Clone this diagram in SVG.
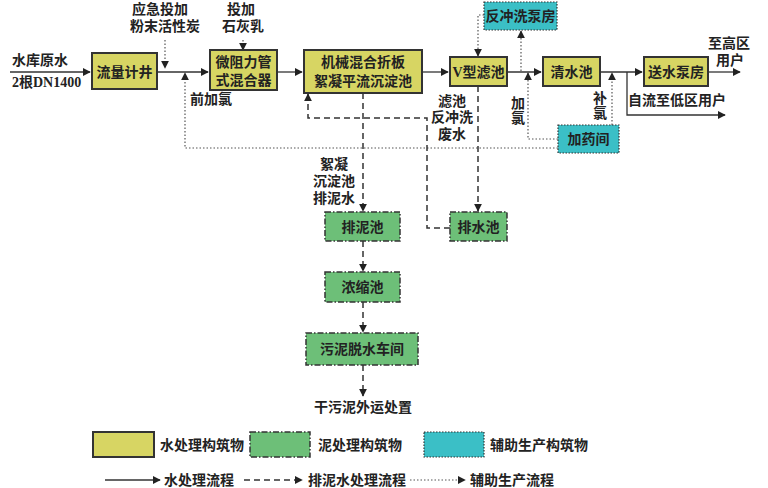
<svg xmlns="http://www.w3.org/2000/svg" width="768" height="488" viewBox="0 0 768 488">
<style>
text{font-family:"Liberation Serif","Noto Sans CJK SC",serif;font-size:14px;fill:#222}
.w{fill:#d7d563;stroke:#333;stroke-width:2}
.s{fill:#6dbf78;stroke:#333;stroke-width:1.5;stroke-dasharray:6 2 1.5 2}
.a{fill:#3bbfc6;stroke:#333;stroke-width:1.2;stroke-dasharray:1.5 1.5}
.l{fill:none;stroke:#333;stroke-width:1.3}
.d{fill:none;stroke:#333;stroke-width:1.5;stroke-dasharray:6 4}
.o{fill:none;stroke:#555;stroke-width:1.2;stroke-dasharray:1.5 2}
.c{text-anchor:middle}
</style>
<defs><marker id="m" viewBox="0 0 10 10" refX="9" refY="5" markerWidth="8" markerHeight="8" orient="auto" markerUnits="userSpaceOnUse"><path d="M0,0L10,5L0,10z" fill="#222"/></marker></defs>
<rect width="768" height="488" fill="#fff"/>
<g id="connectors">
<path class="l" d="M10,72H90" marker-end="url(#m)"/>
<path class="l" d="M157,72H208" marker-end="url(#m)"/>
<path class="l" d="M277,72H302" marker-end="url(#m)"/>
<path class="l" d="M422,72H448" marker-end="url(#m)"/>
<path class="l" d="M507,72H541" marker-end="url(#m)"/>
<path class="l" d="M600,72H642" marker-end="url(#m)"/>
<path class="l" d="M708,72H740" marker-end="url(#m)"/>
<path class="l" d="M627,72V115H725" marker-end="url(#m)"/>
<path class="o" d="M165,40V68" marker-end="url(#m)"/>
<path class="o" d="M243,40V50" marker-end="url(#m)"/>
<path class="o" d="M558,148H185V73" marker-end="url(#m)"/>
<path class="o" d="M484,15H478V56" marker-end="url(#m)"/>
<path class="o" d="M521,71V31" marker-end="url(#m)"/>
<path class="o" d="M558,139H528V73" marker-end="url(#m)"/>
<path class="o" d="M612,125V73" marker-end="url(#m)"/>
<path class="d" d="M450,228H427V118H308V94" marker-end="url(#m)"/>
<path class="d" d="M363,93V211" marker-end="url(#m)"/>
<path class="d" d="M478,86V211" marker-end="url(#m)"/>
<path class="d" d="M363,241V271" marker-end="url(#m)"/>
<path class="d" d="M363,302V332" marker-end="url(#m)"/>
<path class="d" d="M363,365V396" marker-end="url(#m)"/>
</g>
<g id="n1"><rect class="w" x="92" y="53" width="65" height="36"/><text class="c" x="124.5" y="77" font-weight="bold">流量计井</text></g>
<g id="n2"><rect class="w" x="210" y="50" width="67" height="40"/><text class="c" x="243.5" y="67" font-weight="bold">微阻力管</text><text class="c" x="243.5" y="85" font-weight="bold">式混合器</text></g>
<g id="n3"><rect class="w" x="304" y="50" width="118" height="43"/><text class="c" x="363" y="67" font-weight="bold">机械混合折板</text><text class="c" x="363" y="86" font-weight="bold">絮凝平流沉淀池</text></g>
<g id="n4"><rect class="w" x="450" y="57" width="57" height="29"/><text class="c" x="478.5" y="77" font-weight="bold">V型滤池</text></g>
<g id="n5"><rect class="w" x="543" y="57" width="57" height="29"/><text class="c" x="571.5" y="77" font-weight="bold">清水池</text></g>
<g id="n6"><rect class="w" x="644" y="57" width="64" height="29"/><text class="c" x="676" y="77" font-weight="bold">送水泵房</text></g>
<g id="n7"><rect class="a" x="484" y="2" width="73" height="28"/><text class="c" x="520.5" y="21" font-weight="bold">反冲洗泵房</text></g>
<g id="n8"><rect class="a" x="558" y="125" width="61" height="28"/><text class="c" x="588.5" y="144" font-weight="bold">加药间</text></g>
<g id="n9"><rect class="s" x="325" y="212" width="75" height="29"/><text class="c" x="362.5" y="232" font-weight="bold">排泥池</text></g>
<g id="n10"><rect class="s" x="450" y="212" width="57" height="29"/><text class="c" x="478.5" y="232" font-weight="bold">排水池</text></g>
<g id="n11"><rect class="s" x="325" y="272" width="75" height="30"/><text class="c" x="362.5" y="292" font-weight="bold">浓缩池</text></g>
<g id="n12"><rect class="s" x="306" y="333" width="112" height="32"/><text class="c" x="362" y="354" font-weight="bold">污泥脱水车间</text></g>
<g id="labels" font-weight="bold">
<text x="12" y="65">水库原水</text><text x="12" y="87">2根DN1400</text>
<text class="c" x="160" y="14">应急投加</text><text class="c" x="165" y="31">粉末活性炭</text>
<text class="c" x="241" y="14">投加</text><text class="c" x="243" y="31">石灰乳</text>
<text x="190" y="104">前加氯</text>
<text class="c" x="334" y="169">絮凝</text><text class="c" x="334" y="186">沉淀池</text><text class="c" x="334" y="203">排泥水</text>
<text class="c" x="452" y="106">滤池</text><text class="c" x="452" y="122">反冲洗</text><text class="c" x="452" y="139">废水</text>
<text class="c" x="518" y="108">加</text><text class="c" x="518" y="123">氯</text>
<text class="c" x="600" y="103">补</text><text class="c" x="600" y="118">氯</text>
<text x="628" y="105">自流至低区用户</text>
<text x="708" y="48">至高区</text><text x="716" y="65">用户</text>
<text class="c" x="363" y="412">干污泥外运处置</text>
</g>
<g id="legend">
<rect class="w" x="93" y="432" width="61" height="25"/><text x="160" y="450" font-weight="bold">水处理构筑物</text>
<rect class="s" x="250" y="432" width="60" height="25"/><text x="318" y="450" font-weight="bold">泥处理构筑物</text>
<rect class="a" x="424" y="432" width="60" height="25"/><text x="490" y="450" font-weight="bold">辅助生产构筑物</text>
<path class="l" d="M105,480H160" marker-end="url(#m)"/><text x="164" y="485" font-weight="bold">水处理流程</text>
<path class="d" d="M244,480H302" marker-end="url(#m)"/><text x="308" y="485" font-weight="bold">排泥水处理流程</text>
<path class="o" d="M410,480H465" marker-end="url(#m)"/><text x="470" y="485" font-weight="bold">辅助生产流程</text>
</g>
</svg>
